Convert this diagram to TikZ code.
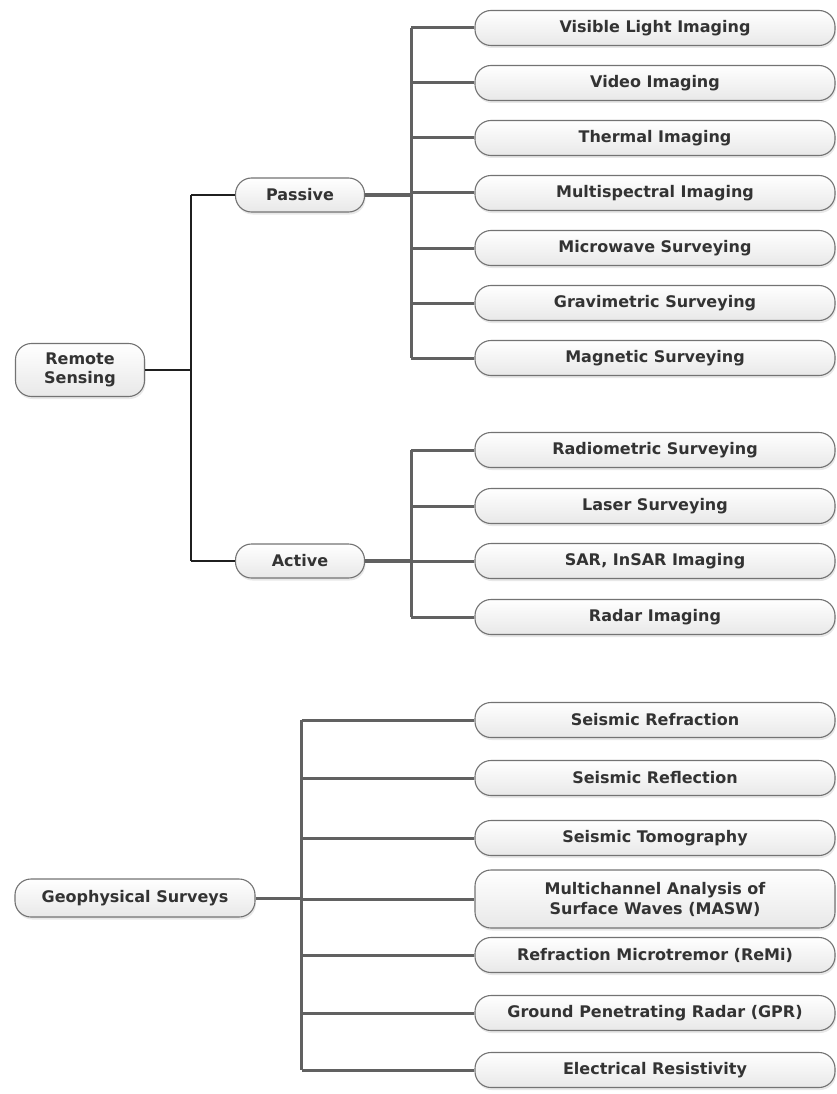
\documentclass[tikz,border=0pt]{standalone}
\usepackage{fontspec}
\setmainfont{DejaVu Sans}
\usetikzlibrary{shadows}
\tikzset{box/.style={draw=black!55, line width=1.1pt, rounded corners=16pt, top color=white, bottom color=black!9,
    text=black!80, font=\fontsize{16}{19}\selectfont\bfseries, align=center, inner sep=2pt,
    drop shadow={shadow xshift=1pt, shadow yshift=-2.5pt, opacity=0.18}}}
\tikzset{leaf/.style={box, minimum width=360pt, minimum height=35pt}}
\tikzset{branch/.style={box, minimum width=129pt, minimum height=34pt}}
\tikzset{link/.style={draw=black!62, line width=3pt}}
\tikzset{stem/.style={draw=black!62, line width=4.5pt}}
\tikzset{rootlink/.style={draw=black!88, line width=2.6pt}}

\begin{document}
\begin{tikzpicture}[x=1pt, y=-1pt]
    \useasboundingbox (0,0) rectangle (836,1094);
    % remote sensing tree
    \node[branch, minimum height=53pt] (rs) at (80,370) {Remote\\Sensing};
    \node[branch] (passive) at (300,195) {Passive};
    \node[branch] (active) at (300,561) {Active};
    \foreach \name/\y/\txt in {vis/28/Visible Light Imaging, vid/83/Video Imaging, therm/138/Thermal Imaging,
        multi/193/Multispectral Imaging, micro/248/Microwave Surveying, grav/303/Gravimetric Surveying,
        magn/358/Magnetic Surveying, radio/450/Radiometric Surveying, laser/506/Laser Surveying,
        sar/561/{SAR, InSAR Imaging}, radar/617/Radar Imaging} {
        \node[leaf] (\name) at (655,\y) {\txt};
    }
    \draw[rootlink] (rs.east) -- ++(46,0) coordinate (rstrunk);
    \draw[rootlink] (passive -| rstrunk) -- (active -| rstrunk);
    \draw[rootlink] (passive -| rstrunk) -- (passive.west);
    \draw[rootlink] (active -| rstrunk) -- (active.west);
    \draw[stem] (passive.east) -- ++(46,0) coordinate (ptrunk);
    \draw[link] (vis -| ptrunk) -- (magn -| ptrunk);
    \foreach \name in {vis, vid, therm, multi, micro, grav, magn} {
        \draw[link] (\name -| ptrunk) -- (\name.west);
    }
    \draw[stem] (active.east) -- ++(46,0) coordinate (atrunk);
    \draw[link] (radio -| atrunk) -- (radar -| atrunk);
    \foreach \name in {radio, laser, sar, radar} {
        \draw[link] (\name -| atrunk) -- (\name.west);
    }
    % geophysical tree
    \node[branch, minimum width=240pt, minimum height=38pt] (geo) at (135,898) {Geophysical Surveys};
    \foreach \name/\y/\txt in {refr/720/Seismic Refraction, refl/778/Seismic Reflection, tomo/838/Seismic Tomography,
        remi/955/Refraction Microtremor (ReMi), gpr/1013/Ground Penetrating Radar (GPR),
        elec/1070/Electrical Resistivity} {
        \node[leaf] (\name) at (655,\y) {\txt};
    }
    \node[leaf, minimum height=58pt, font=\fontsize{16}{20}\selectfont\bfseries] (masw) at (655,899)
        {Multichannel Analysis of\\Surface Waves (MASW)};
    \draw[link] (geo.east) -- ++(46,0) coordinate (gtrunk);
    \draw[link] (refr -| gtrunk) -- (elec -| gtrunk);
    \foreach \name in {refr, refl, tomo, masw, remi, gpr, elec} {
        \draw[link] (\name -| gtrunk) -- (\name.west);
    }
\end{tikzpicture}
\end{document}
